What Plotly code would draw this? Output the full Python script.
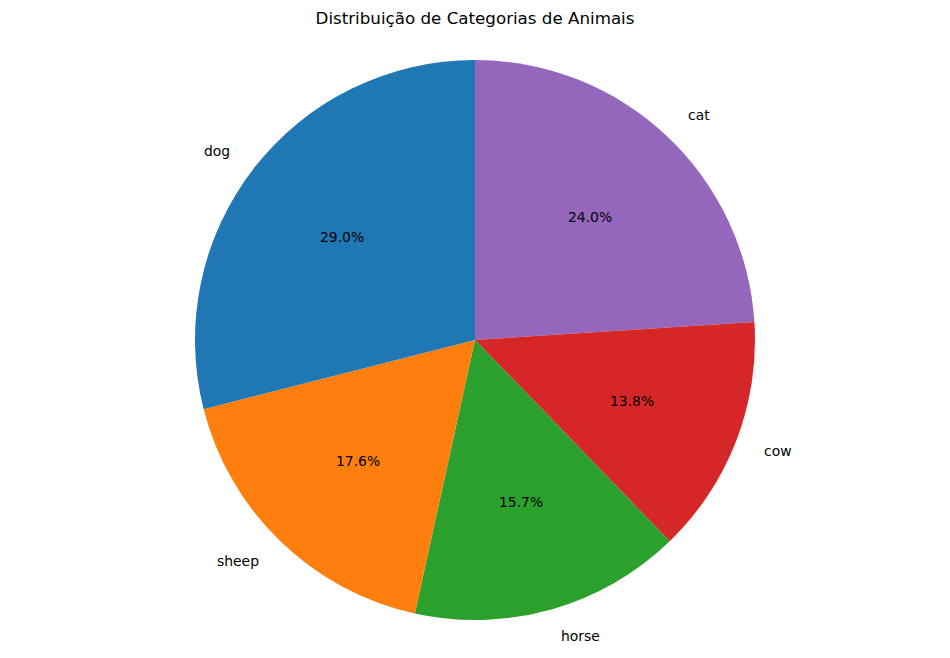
import math
import plotly.graph_objects as go

# categorias e percentuais
labels = ['dog', 'sheep', 'horse', 'cow', 'cat']
values = [29.0, 17.6, 15.7, 13.8, 24.0]
colors = ['#1f77b4', '#ff7f0e', '#2ca02c', '#d62728', '#9467bd']

# a página tem margem de 8px no body; a figura é reduzida para compensar
W, H = 942, 650
top, bottom, left, right = 52, 38, 0, 8
plot_w, plot_h = W - left - right, H - top - bottom
radius_px = plot_h / 2

fig = go.Figure()

# matplotlib: startangle=90, sentido anti-horário -> aqui ordem invertida, sentido horário
fig.add_trace(go.Pie(
    labels=labels[::-1],
    values=values[::-1],
    sort=False,
    direction='clockwise',
    rotation=0,
    marker=dict(colors=colors[::-1], line=dict(width=0)),
    textinfo='none',
    hoverinfo='label+percent',
    showlegend=False,
))

# rótulos estilo matplotlib: nome a 1.1 do raio, percentual a 0.6
total = sum(values)
annotations = []
start = 90.0
for lab, v in zip(labels, values):
    span = 360.0 * v / total
    mid = math.radians(start + span / 2)
    start += span
    cx, cy = math.cos(mid), math.sin(mid)
    annotations.append(dict(
        x=0.5 + 1.1 * cx * radius_px / plot_w,
        y=0.5 + 1.1 * cy * radius_px / plot_h,
        xref='paper', yref='paper', text=lab, showarrow=False,
        xanchor='left' if cx > 0 else 'right', yanchor='middle',
        font=dict(size=13.9, color='black'),
    ))
    annotations.append(dict(
        x=0.5 + 0.6 * cx * radius_px / plot_w,
        y=0.5 + 0.6 * cy * radius_px / plot_h,
        xref='paper', yref='paper', text=f"{100 * v / total:.1f}%", showarrow=False,
        xanchor='center', yanchor='middle',
        font=dict(size=13.9, color='black'),
    ))

fig.update_layout(
    title=dict(text='Distribuição de Categorias de Animais', x=(left + plot_w / 2) / W,
               xanchor='center', y=1 - 10 / H, yanchor='middle',
               font=dict(size=16.7, color='black')),
    annotations=annotations,
    width=W,
    height=H,
    margin=dict(l=left, r=right, t=top, b=bottom),
    paper_bgcolor='white',
    plot_bgcolor='white',
    font=dict(family='DejaVu Sans', color='black'),
)

fig.write_html("out.html")
